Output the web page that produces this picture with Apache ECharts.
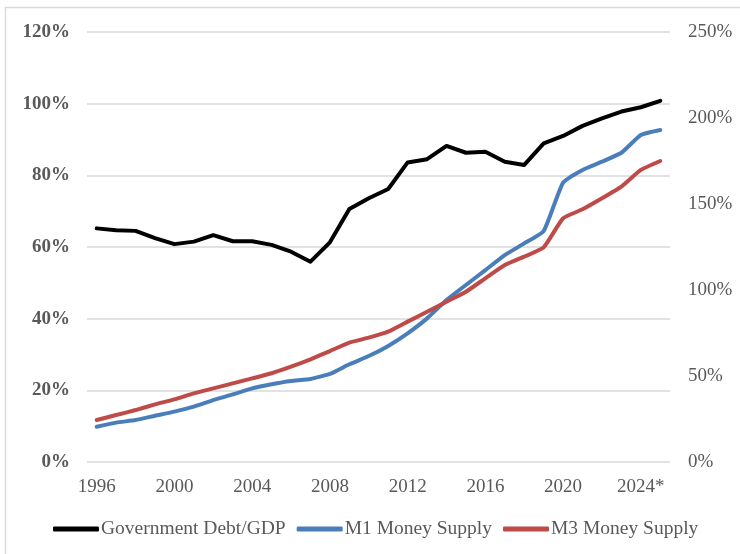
<!DOCTYPE html>
<html>
<head>
<meta charset="utf-8">
<script src="https://cdn.jsdelivr.net/npm/echarts@6/dist/echarts.min.js"></script>
<style>
  html, body { margin: 0; padding: 0; background: #fff; }
  #chart { width: 740px; height: 554px; }
</style>
</head>
<body>
<div id="chart"></div>
<script>
// years on the x axis (2024 is an estimate, marked with *)
const years = ['1996','1997','1998','1999','2000','2001','2002','2003','2004','2005',
  '2006','2007','2008','2009','2010','2011','2012','2013','2014','2015',
  '2016','2017','2018','2019','2020','2021','2022','2023','2024*','2025*'];

// left axis, %
const debtToGdp = [65.2, 64.7, 64.5, 62.5, 60.8, 61.5, 63.3, 61.6, 61.6, 60.6,
  58.7, 55.9, 61.3, 70.6, 73.6, 76.2, 83.6, 84.5, 88.2, 86.3,
  86.6, 83.8, 82.9, 88.9, 91.0, 93.8, 95.9, 97.8, 99.0, 100.8];

// right axis, %
const m1Supply = [20.5, 22.9, 24.4, 26.9, 29.3, 32.2, 36.0, 39.3, 42.8, 45.2,
  47.1, 48.3, 51.2, 56.8, 61.6, 67.5, 74.8, 83.5, 94.2, 102.9,
  111.6, 120.3, 127.1, 134.3, 162.4, 169.8, 174.6, 179.8, 190.1, 193.0];

const m3Supply = [24.4, 27.3, 30.2, 33.5, 36.4, 39.9, 42.8, 45.7, 48.6, 51.6,
  55.4, 59.7, 64.5, 69.4, 72.3, 75.8, 81.6, 87.4, 93.2, 99.0,
  106.8, 114.5, 119.4, 124.8, 141.7, 146.9, 153.3, 160.1, 169.8, 175.0];

const leftTicks = { min: 0, max: 120, step: 20 };
const rightTicks = { min: 0, max: 250, step: 50 };

const serif = '"Liberation Serif", "DejaVu Serif", serif';
const labelGray = '#595959';

let chart = echarts.init(document.getElementById('chart'));

let options = {
  animation: false,
  backgroundColor: '#fff',
  graphic: [
    {
      type: 'rect',
      shape: { x: 5.5, y: 7.5, width: 760, height: 600 },
      style: { fill: 'none', stroke: '#d9d9d9', lineWidth: 1.5 },
      silent: true,
    },
  ],
  grid: {
    left: 87,
    right: 70,
    top: 32,
    bottom: 92,
  },
  legend: {
    bottom: 10,
    left: 48,
    itemWidth: 46,
    itemHeight: 5,
    itemGap: 11,
    icon: 'roundRect',
    textStyle: {
      fontFamily: serif,
      fontSize: 19.5,
      color: labelGray,
      padding: [0, 0, 0, -3],
    },
    data: ['Government Debt/GDP', 'M1 Money Supply', 'M3 Money Supply'],
  },
  xAxis: {
    type: 'category',
    data: years,
    boundaryGap: true,
    axisLine: { show: false },
    axisTick: { show: false },
    axisLabel: {
      interval: 3,
      margin: 16,
      fontFamily: serif,
      fontSize: 19,
      color: labelGray,
    },
  },
  yAxis: [
    {
      type: 'value',
      min: leftTicks.min,
      max: leftTicks.max,
      interval: leftTicks.step,
      axisLine: { show: false },
      axisTick: { show: false },
      splitLine: { lineStyle: { color: '#d9d9d9', width: 1.5 } },
      axisLabel: {
        formatter: '{value}%',
        margin: 17,
        fontFamily: serif,
        fontSize: 19,
        fontWeight: 'bold',
        color: labelGray,
      },
    },
    {
      type: 'value',
      min: rightTicks.min,
      max: rightTicks.max,
      interval: rightTicks.step,
      axisLine: { show: false },
      axisTick: { show: false },
      splitLine: { show: false },
      axisLabel: {
        formatter: '{value}%',
        margin: 18,
        fontFamily: serif,
        fontSize: 19,
        color: labelGray,
      },
    },
  ],
  series: [
    {
      name: 'Government Debt/GDP',
      type: 'line',
      yAxisIndex: 0,
      data: debtToGdp,
      symbol: 'none',
      lineStyle: { color: '#000', width: 4, cap: 'round', join: 'round' },
      itemStyle: { color: '#000' },
    },
    {
      name: 'M1 Money Supply',
      type: 'line',
      yAxisIndex: 1,
      data: m1Supply,
      symbol: 'none',
      smooth: 0.15,
      lineStyle: { color: '#4a7ebb', width: 4, cap: 'round', join: 'round' },
      itemStyle: { color: '#4a7ebb' },
    },
    {
      name: 'M3 Money Supply',
      type: 'line',
      yAxisIndex: 1,
      data: m3Supply,
      symbol: 'none',
      smooth: 0.15,
      lineStyle: { color: '#be4b48', width: 4, cap: 'round', join: 'round' },
      itemStyle: { color: '#be4b48' },
    },
  ],
};

chart.setOption(options);
</script>
</body>
</html>
